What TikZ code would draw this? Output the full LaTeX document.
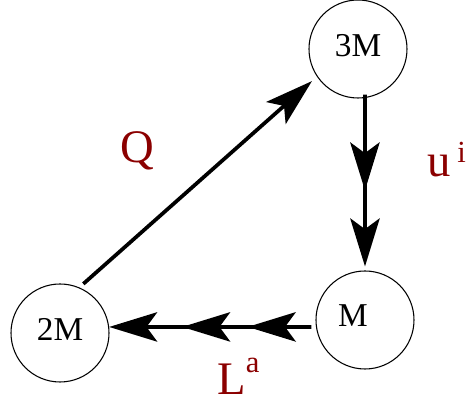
\documentclass[tikz,border=0pt]{standalone}
\usepackage{fontspec}
\setmainfont{Liberation Serif}
\usetikzlibrary{arrows.meta,decorations.markings}
\definecolor{lblred}{RGB}{139,0,0}
\tikzset{bighead/.tip={Stealth[length=36pt,width=22pt,inset=8pt]}}

\begin{document}
\begin{tikzpicture}[
  x=0.75pt, y=0.75pt,
  every node/.style={font=\fontsize{25}{30}\selectfont},
  mass/.style={draw,circle,line width=0.8pt,minimum size=73.5pt,inner sep=0pt,text depth=6pt},
  flow/.style={line width=2.8pt,-bighead},
  midtips/.style={postaction=decorate,decoration={markings,#1}},
  lbl/.style={text=lblred,font=\fontsize{35}{42}\selectfont,inner sep=0pt,anchor=base west},
]
  \useasboundingbox (0,0) rectangle (469,406);
  % masses
  \node[mass] (n3M) at (358,357) {3M};
  \node[mass] (nM) at (365,86) {M\kern18pt};
  \node[mass] (n2M) at (60,73) {2M};
  % connectors
  \draw[flow,shorten <=4pt,shorten >=5pt] (n2M.67) -- (n3M.214);
  \draw[flow,shorten <=-2.5pt,shorten >=3pt,
        midtips={mark=at position 0.536 with {\arrow{bighead}}}] (n3M.278) -- (nM.north);
  \draw[flow,shorten <=3.4pt,
        midtips={mark=at position 0.33 with {\arrow{bighead}},
                 mark=at position 0.647 with {\arrow{bighead}}}] (nM.188) -- (n2M.7);
  % labels
  \node[lbl] (lQ) at (120,243) {Q};
  \node[lbl] (lu) at (427,229) {u\hspace{5pt}\raisebox{10.5pt}{\fontsize{23}{26}\selectfont i}};
  \node[lbl] (lL) at (217,11) {L\raisebox{17pt}{\fontsize{23}{26}\selectfont a}};
\end{tikzpicture}
\end{document}
